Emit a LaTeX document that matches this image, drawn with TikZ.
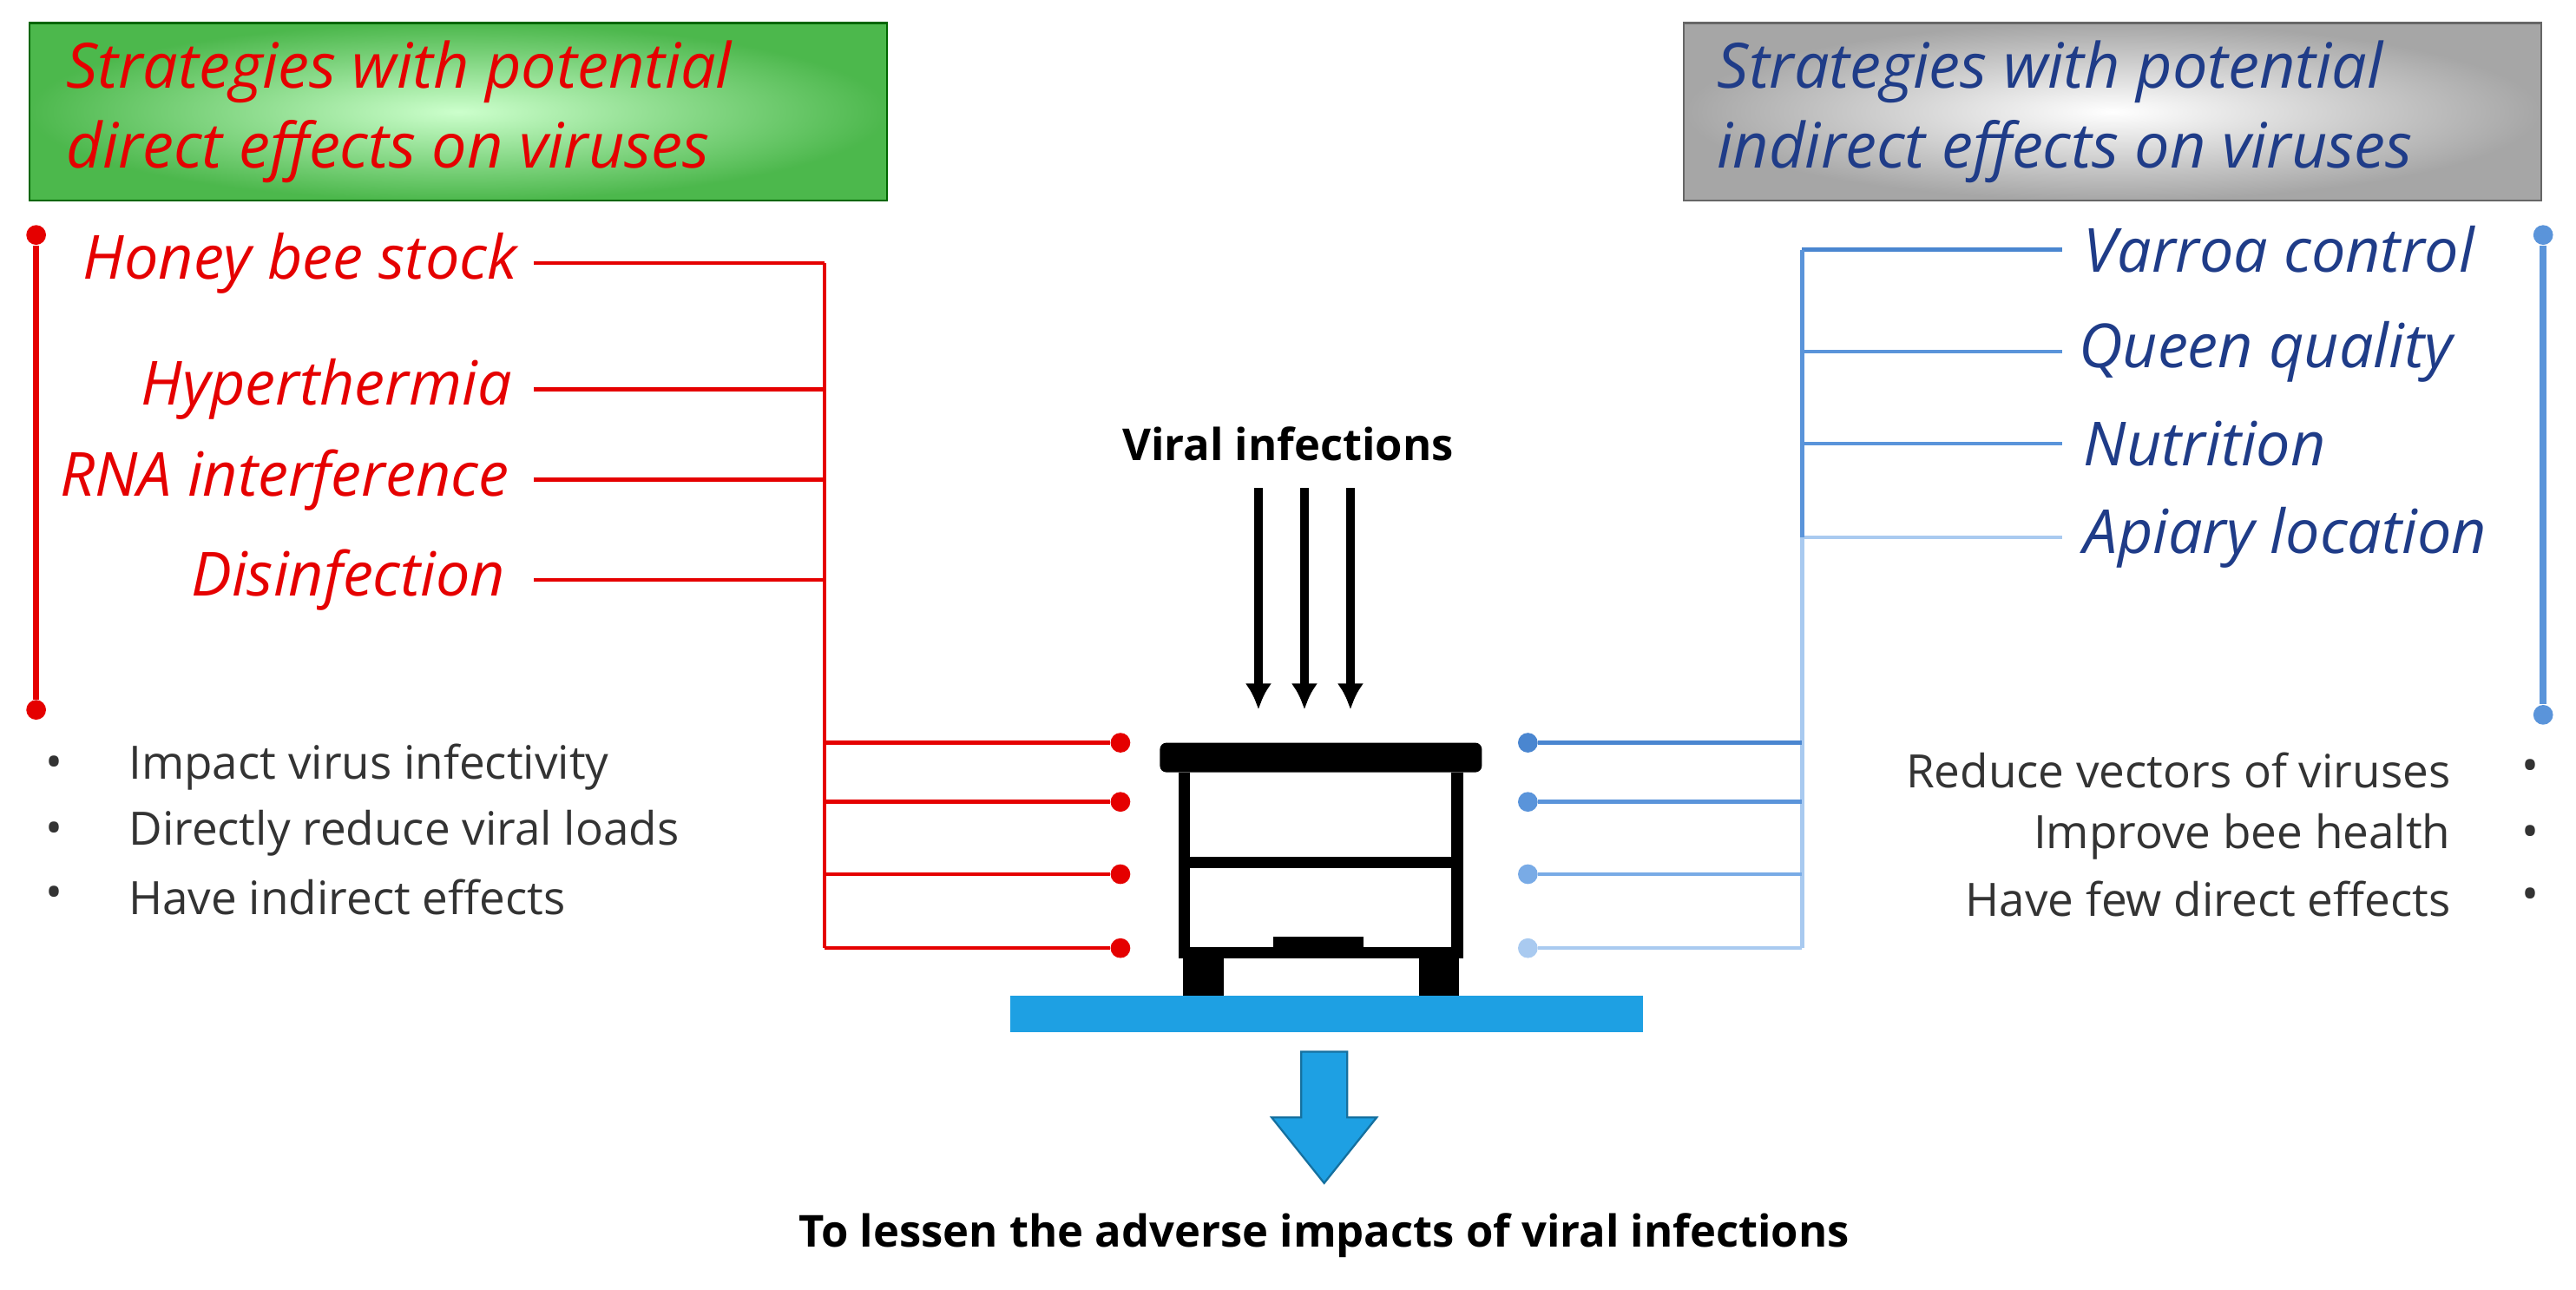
\documentclass[tikz,border=0pt]{standalone}
\usepackage{fontspec}
\usetikzlibrary{arrows.meta}
\setmainfont{Open Sans}
\begin{document}
\begin{tikzpicture}[x=0.5pt,y=-0.5pt,
 title/.style={font=\fontsize{19}{24.5}\selectfont\itshape,align=left,anchor=west,inner sep=0},
 redlab/.style={text=red!90!black,font=\fontsize{18.5}{20}\selectfont\itshape,anchor=east,inner sep=0},
 bluelab/.style={text=bluetxt,font=\fontsize{18.5}{20}\selectfont\itshape,anchor=west,inner sep=0},
 bul/.style={text=black!80,font=\fontsize{14}{16}\selectfont,inner sep=0},
 rl/.style={draw=red!90!black,line width=1.2pt},
 dot/.style={circle,inner sep=0,minimum size=6pt}]
\definecolor{bluetxt}{HTML}{1F3C88}
\definecolor{b1}{HTML}{4A86D0}
\definecolor{b2}{HTML}{5A94DA}
\definecolor{b3}{HTML}{79ABE6}
\definecolor{b4}{HTML}{A9CAF0}
\definecolor{stand}{HTML}{1EA0E3}
\useasboundingbox (0,0) rectangle (1568,785);
% title boxes
\shade[inner color=green!20!white,outer color=green!60!black!70] (18,14) rectangle (540,122);
\draw[green!40!black,line width=0.6pt] (18,14) rectangle (540,122);
\node[title,text=red!90!black] (tl) at (40,68) {Strategies with potential\\direct effects on viruses};
\shade[inner color=white,outer color=black!35] (1025,14) rectangle (1547,122);
\draw[black!60,line width=0.6pt] (1025,14) rectangle (1547,122);
\node[title,text=bluetxt] (tr) at (1045,68) {Strategies with potential\\indirect effects on viruses};
% left
\node[dot,fill=red!90!black] (lt) at (22,143) {};
\node[dot,fill=red!90!black] (lb) at (22,432) {};
\draw[rl,line width=2pt] (lt) -- (lb);
\node[redlab] (r1) at (315,160) {Honey bee stock};
\node[redlab] (r2) at (312,237) {Hyperthermia};
\node[redlab] (r3) at (310,292) {RNA interference};
\node[redlab] (r4) at (308,353) {Disinfection};
\coordinate (rtop) at (502,160);
\coordinate (rbot) at (502,577);
\foreach \y/\n in {160/r1,237/r2,292/r3,353/r4}{\draw[rl] (325,\y) -- (502,\y);}
\draw[rl] (rtop) -- (rbot);
\foreach \y in {452,488,532,577}{\node[dot,fill=red!90!black] (d\y) at (682,\y) {}; \draw[rl] (502,\y) -- (d\y);}
\foreach \y/\t in {467/Impact virus infectivity,507/Directly reduce viral loads,546/Have indirect effects}{
 \node[bul] at (33,\y) {\textbullet}; \node[bul,anchor=west] at (78,\y) {\t};}
% right
\node[dot,fill=b2] (rt) at (1548,143) {};
\node[dot,fill=b2] (rb) at (1548,435) {};
\draw[b2,line width=2pt] (rt) -- (rb);
\node[bluelab] (v1) at (1268,152) {Varroa control};
\node[bluelab] (v2) at (1265,214) {Queen quality};
\node[bluelab] (v3) at (1268,270) {Nutrition};
\node[bluelab] (v4) at (1268,327) {Apiary location};
\draw[b1,line width=1.2pt] (1097,152) -- (1255,152);
\draw[b2,line width=1.2pt] (1097,214) -- (1255,214);
\draw[b2,line width=1.2pt] (1097,270) -- (1255,270);
\draw[b4,line width=1.2pt] (1097,327) -- (1255,327);
\draw[b2,line width=1.2pt] (1097,152) -- (1097,327);
\draw[b4,line width=1.2pt] (1097,327) -- (1097,577);
\foreach \y/\c in {452/b1,488/b2,532/b3,577/b4}{\node[dot,fill=\c] (e\y) at (930,\y) {}; \draw[\c,line width=1.2pt] (e\y) -- (1097,\y);}
\foreach \y/\t in {469/Reduce vectors of viruses,509/Improve bee health,547/Have few direct effects}{
 \node[bul] at (1540,\y) {\textbullet}; \node[bul,anchor=east] at (1492,\y) {\t};}
% center
\node[font=\fontsize{13.4}{15}\selectfont\bfseries] (vi) at (784,270) {Viral infections};
\foreach \x in {766,794,822}{\draw[line width=2.5pt,-{Latex[length=8pt,width=8pt]}] (\x,297) -- (\x,432);}
% hive
\fill[black,rounded corners=2pt] (706,452) rectangle (902,470);
\draw[line width=3.5pt] (721,470) -- (721,580) -- (887,580) -- (887,470);
\draw[line width=3.5pt] (721,525) -- (887,525);
\fill (775,570) rectangle (830,582);
\fill (720,580) rectangle (745,608);
\fill (864,580) rectangle (888,608);
\fill[stand] (615,606) rectangle (1000,628);
\draw[stand!70!black,line width=0.6pt,fill=stand] (792,640) -- (820,640) -- (820,680) -- (838,680) -- (806,720) -- (774,680) -- (792,680) -- cycle;
\node[font=\fontsize{13.4}{15}\selectfont\bfseries] (bt) at (806,752) {To lessen the adverse impacts of viral infections};
\end{tikzpicture}
\end{document}
